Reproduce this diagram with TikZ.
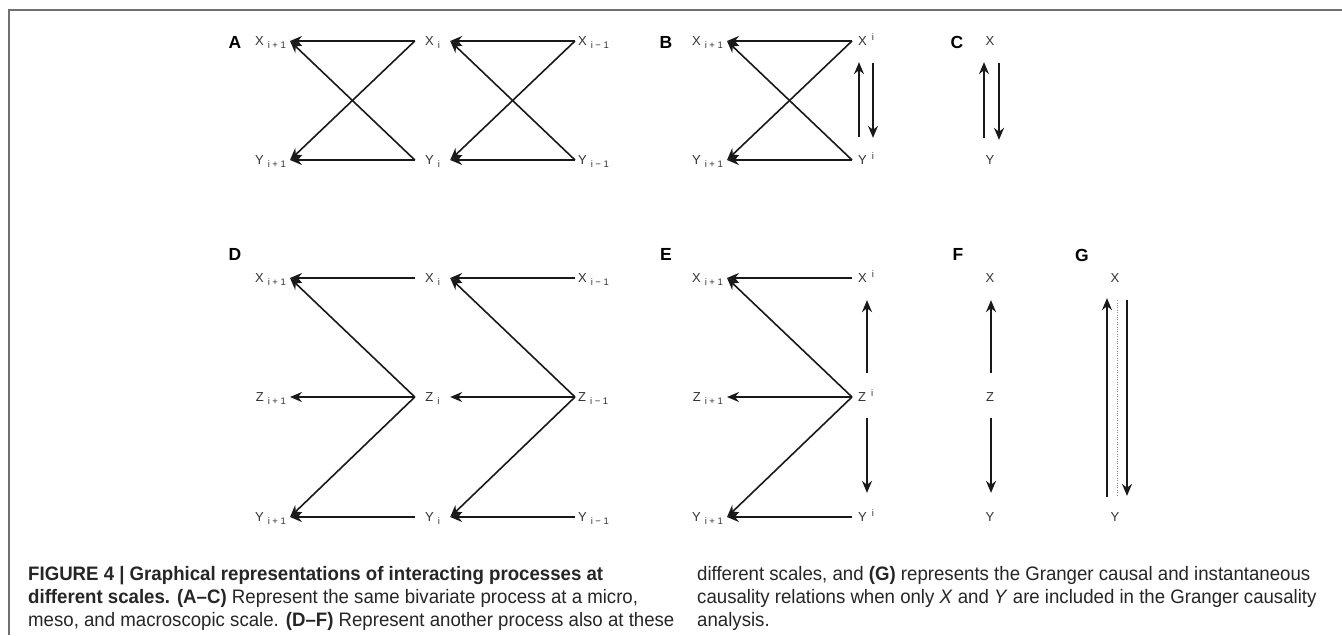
\documentclass[tikz,border=0pt]{standalone}
\usepackage{fontspec}
\setmainfont{Liberation Sans}
\newfontfamily\capfont{Liberation Sans}[FakeStretch=0.956]
\usetikzlibrary{arrows.meta}
\definecolor{labgray}{HTML}{333333}
\definecolor{framegray}{HTML}{707070}
\newcommand\lsub[1]{\hspace{4pt}\raisebox{-3pt}{\fontsize{9.5}{9.5}\selectfont #1}}
\newcommand\lsup[1]{\hspace{5pt}\raisebox{5pt}{\fontsize{9.5}{9.5}\selectfont #1}}
\newcommand\ipo{i\hspace{2.5pt}+\hspace{2.5pt}1}
\newcommand\imo{i\hspace{2.5pt}−\hspace{2.5pt}1}
\tikzset{
  var/.style={font=\fontsize{13}{13}\selectfont, text=labgray, inner ysep=0pt, inner xsep=0pt, text height=11.3pt, text depth=2pt},
  panel/.style={font=\fontsize{17.5}{17.5}\selectfont\bfseries, inner sep=0pt},
  arr/.style={draw=black!90, line width=1.6pt, -{Stealth[length=12pt, width=10pt, inset=4pt]}},
  dotl/.style={draw=black!45, line width=0.8pt, dash pattern=on 0.8pt off 1.6pt},
  capline/.style={font=\capfont\fontsize{19.5}{19.5}\selectfont, anchor=base west, inner sep=0pt, text=black!85}
}
\begin{document}
\begin{tikzpicture}[x=1pt,y=-1pt]
\useasboundingbox (0,0) rectangle (1342,635);
\fill[white] (0,0) rectangle (1342,635);
\draw[framegray, line width=2pt] (8.5,635) -- (8.5,10) -- (1342,10);

% ---------- panel A ----------
\node[panel] (LA) at (235,42) {A};
\node[var, anchor=east, inner xsep=4pt] (AX1) at (290,41) {X\lsub{\ipo}};
\node[var, minimum width=35pt] (AX0) at (432.5,41) {X\lsub{i}};
\node[var, anchor=west, inner xsep=3pt] (AXm) at (575,41) {X\lsub{\imo}};
\node[var, anchor=east, inner xsep=4pt] (AY1) at (290,160) {Y\lsub{\ipo}};
\node[var, minimum width=35pt] (AY0) at (432.5,160) {Y\lsub{i}};
\node[var, anchor=west, inner xsep=3pt] (AYm) at (575,160) {Y\lsub{\imo}};
\draw[arr] (AX0.west) -- (AX1.east);
\draw[arr] (AY0.west) -- (AX1.east);
\draw[arr] (AX0.west) -- (AY1.east);
\draw[arr] (AY0.west) -- (AY1.east);
\draw[arr] (AXm.west) -- (AX0.east);
\draw[arr] (AYm.west) -- (AX0.east);
\draw[arr] (AXm.west) -- (AY0.east);
\draw[arr] (AYm.west) -- (AY0.east);

% ---------- panel B ----------
\node[panel] (LB) at (666,42) {B};
\node[var, anchor=east, inner xsep=4pt] (BX1) at (727,41) {X\lsub{\ipo}};
\node[var, anchor=west, inner xsep=6pt] (BXi) at (852,41) {X\lsup{i}};
\node[var, anchor=east, inner xsep=4pt] (BY1) at (727,160) {Y\lsub{\ipo}};
\node[var, anchor=west, inner xsep=6pt] (BYi) at (852,160) {Y\lsup{i}};
\draw[arr] (BXi.west) -- (BX1.east);
\draw[arr] (BYi.west) -- (BX1.east);
\draw[arr] (BXi.west) -- (BY1.east);
\draw[arr] (BYi.west) -- (BY1.east);
\draw[arr, shorten <=16.3pt, shorten >=14.3pt] ([xshift=7pt]BYi.north west) -- ([xshift=7pt]BXi.south west);
\draw[arr, shorten <=15.3pt, shorten >=15.3pt] ([xshift=21pt]BXi.south west) -- ([xshift=21pt]BYi.north west);

% ---------- panel C ----------
\node[panel] (LC) at (957,42) {C};
\node[var] (CX) at (990,41) {X};
\node[var] (CY) at (990,160) {Y};
\draw[arr, shorten <=15.3pt, shorten >=14.3pt] ([xshift=-6pt]CY.north) -- ([xshift=-6pt]CX.south);
\draw[arr, shorten <=15.3pt, shorten >=13.3pt] ([xshift=9pt]CX.south) -- ([xshift=9pt]CY.north);

% ---------- panel D ----------
\node[panel] (LD) at (235,254) {D};
\node[var, anchor=east, inner xsep=4pt] (DX1) at (290,278) {X\lsub{\ipo}};
\node[var, minimum width=35pt] (DX0) at (432.5,278) {X\lsub{i}};
\node[var, anchor=west, inner xsep=3pt] (DXm) at (575,278) {X\lsub{\imo}};
\node[var, anchor=east, inner xsep=4pt] (DZ1) at (290,397) {Z\lsub{\ipo}};
\node[var, minimum width=35pt] (DZ0) at (432.5,397) {Z\lsub{i}};
\node[var, anchor=west, inner xsep=3pt] (DZm) at (575,397) {Z\lsub{\imo}};
\node[var, anchor=east, inner xsep=4pt] (DY1) at (290,517) {Y\lsub{\ipo}};
\node[var, minimum width=35pt] (DY0) at (432.5,517) {Y\lsub{i}};
\node[var, anchor=west, inner xsep=3pt] (DYm) at (575,517) {Y\lsub{\imo}};
\draw[arr] (DX0.west) -- (DX1.east);
\draw[arr] (DZ0.west) -- (DX1.east);
\draw[arr] (DZ0.west) -- (DZ1.east);
\draw[arr] (DZ0.west) -- (DY1.east);
\draw[arr] (DY0.west) -- (DY1.east);
\draw[arr] (DXm.west) -- (DX0.east);
\draw[arr] (DZm.west) -- (DX0.east);
\draw[arr] (DZm.west) -- (DZ0.east);
\draw[arr] (DZm.west) -- (DY0.east);
\draw[arr] (DYm.west) -- (DY0.east);

% ---------- panel E ----------
\node[panel] (LE) at (666,254) {E};
\node[var, anchor=east, inner xsep=4pt] (EX1) at (727,278) {X\lsub{\ipo}};
\node[var, anchor=west, inner xsep=6pt] (EXi) at (852,278) {X\lsup{i}};
\node[var, anchor=east, inner xsep=4pt] (EZ1) at (727,397) {Z\lsub{\ipo}};
\node[var, anchor=west, inner xsep=6pt] (EZi) at (852,397) {Z\lsup{i}};
\node[var, anchor=east, inner xsep=4pt] (EY1) at (727,517) {Y\lsub{\ipo}};
\node[var, anchor=west, inner xsep=6pt] (EYi) at (852,517) {Y\lsup{i}};
\draw[arr] (EXi.west) -- (EX1.east);
\draw[arr] (EZi.west) -- (EX1.east);
\draw[arr] (EZi.west) -- (EZ1.east);
\draw[arr] (EZi.west) -- (EY1.east);
\draw[arr] (EYi.west) -- (EY1.east);
\draw[arr, shorten <=17.3pt, shorten >=15.3pt] ([xshift=15pt]EZi.north west) -- ([xshift=15pt]EXi.south west);
\draw[arr, shorten <=14.3pt, shorten >=17.3pt] ([xshift=15pt]EZi.south west) -- ([xshift=15pt]EYi.north west);

% ---------- panel F ----------
\node[panel] (LF) at (958,254) {F};
\node[var] (FX) at (990,278) {X};
\node[var] (FZ) at (990,397) {Z};
\node[var] (FY) at (990,517) {Y};
\draw[arr, shorten <=17.3pt, shorten >=15.3pt] ([xshift=1pt]FZ.north) -- ([xshift=1pt]FX.south);
\draw[arr, shorten <=14.3pt, shorten >=17.3pt] ([xshift=1pt]FZ.south) -- ([xshift=1pt]FY.north);

% ---------- panel G ----------
\node[panel] (LG) at (1082,255) {G};
\node[var] (GX) at (1115,278) {X};
\node[var] (GY) at (1115,517) {Y};
\draw[arr, shorten <=13.3pt, shorten >=13.3pt] ([xshift=-8pt]GY.north) -- ([xshift=-8pt]GX.south);
\draw[dotl, shorten <=15.3pt, shorten >=13.3pt] ([xshift=2pt]GX.south) -- ([xshift=2pt]GY.north);
\draw[arr, shorten <=15.3pt, shorten >=14.3pt] ([xshift=12pt]GX.south) -- ([xshift=12pt]GY.north);

% ---------- caption ----------
\node[capline] (c1) at (28,580) {\bfseries FIGURE 4 | Graphical representations of interacting processes at};
\node[capline] (c2) at (28,603) {\textbf{different scales. (A–C)} Represent the same bivariate process at a micro,};
\node[capline] (c3) at (28,626) {meso, and macroscopic scale. \textbf{(D–F)} Represent another process also at these};
\node[capline] (c4) at (697,580) {different scales, and \textbf{(G)} represents the Granger causal and instantaneous};
\node[capline] (c5) at (697,603) {causality relations when only \textit{X} and \textit{Y} are included in the Granger causality};
\node[capline] (c6) at (697,626) {analysis.};
\end{tikzpicture}
\end{document}
